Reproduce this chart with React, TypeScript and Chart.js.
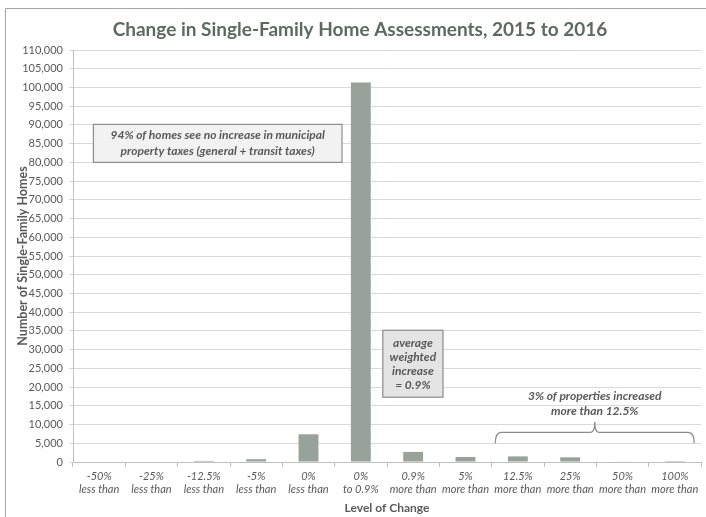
import React, { useEffect, useRef } from "react";
import { Chart, registerables } from "chart.js";

Chart.register(...registerables);

const categoryTop = ["-50%", "-25%", "-12.5%", "-5%", "0%", "0%", "0.9%", "5%", "12.5%", "25%", "50%", "100%"];
const categoryBottom = ["less than", "less than", "less than", "less than", "less than", "to 0.9%", "more than", "more than", "more than", "more than", "more than", "more than"];
const homeCounts = [0, 0, 300, 750, 7400, 101300, 2700, 1350, 1500, 1250, 150, 10];
const titleText = "Change in Single-Family Home Assessments, 2015 to 2016";
const yAxisTitle = "Number of Single-Family Homes";
const xAxisTitle = "Level of Change";
const noteTaxes = ["94% of homes see no increase in municipal", "property taxes (general + transit taxes)"];
const noteAverage = ["average", "weighted", "increase", "= 0.9%"];
const noteBrace = ["3% of properties increased", "more than 12.5%"];

const FONT = "Lato, 'Open Sans', sans-serif";
const TEXT = "#595959";

const decorPlugin = {
  id: "decor",
  beforeDraw(chart: any) {
    const ctx = chart.ctx;
    ctx.save();
    ctx.strokeStyle = "#a6a6a6";
    ctx.lineWidth = 1;
    ctx.beginPath();
    ctx.moveTo(5.5, 530);
    ctx.lineTo(5.5, 8.5);
    ctx.lineTo(720, 8.5);
    ctx.stroke();
    ctx.fillStyle = "#5d6a61";
    ctx.font = `bold 19px ${FONT}`;
    ctx.textAlign = "center";
    ctx.textBaseline = "middle";
    ctx.fillText(titleText, 360, 30);
    ctx.restore();
  },
  afterDatasetsDraw(chart: any) {
    const ctx = chart.ctx;
    const x = chart.scales.x;
    const y = chart.scales.y;
    ctx.save();
    // box 1
    const b1l = x.getPixelForValue(-0.11), b1r = x.getPixelForValue(4.64);
    const b1t = y.getPixelForValue(90150), b1b = y.getPixelForValue(80000);
    ctx.fillStyle = "#f2f2f2";
    ctx.fillRect(b1l, b1t, b1r - b1l, b1b - b1t);
    ctx.strokeStyle = "#8c8c8c";
    ctx.lineWidth = 1.2;
    ctx.strokeRect(b1l, b1t, b1r - b1l, b1b - b1t);
    ctx.fillStyle = TEXT;
    ctx.font = `italic bold 12px ${FONT}`;
    ctx.textAlign = "center";
    ctx.textBaseline = "middle";
    const b1c = (b1l + b1r) / 2, b1m = (b1t + b1b) / 2;
    ctx.fillText(noteTaxes[0], b1c, b1m - 8);
    ctx.fillText(noteTaxes[1], b1c, b1m + 8);
    // box 2
    const b2l = x.getPixelForValue(5.42), b2r = x.getPixelForValue(6.57);
    const b2t = y.getPixelForValue(35170), b2b = y.getPixelForValue(17300);
    ctx.fillStyle = "#e4e4e4";
    ctx.fillRect(b2l, b2t, b2r - b2l, b2b - b2t);
    ctx.strokeRect(b2l, b2t, b2r - b2l, b2b - b2t);
    ctx.fillStyle = TEXT;
    const b2c = (b2l + b2r) / 2, b2m = (b2t + b2b) / 2;
    noteAverage.forEach((s, i) => ctx.fillText(s, b2c, b2m + (i - 1.5) * 14));
    // brace
    const l = x.getPixelForValue(7.57), r = x.getPixelForValue(11.37), m = x.getPixelForValue(9.47);
    const yb = y.getPixelForValue(5000), yh = y.getPixelForValue(7930), yt = y.getPixelForValue(10680);
    ctx.strokeStyle = "#8c8c8c";
    ctx.lineWidth = 1.3;
    ctx.beginPath();
    ctx.moveTo(l, yb);
    ctx.quadraticCurveTo(l, yh, l + 6, yh);
    ctx.lineTo(m - 4, yh);
    ctx.quadraticCurveTo(m, yh, m, yt);
    ctx.quadraticCurveTo(m, yh, m + 4, yh);
    ctx.lineTo(r - 6, yh);
    ctx.quadraticCurveTo(r, yh, r, yb);
    ctx.stroke();
    ctx.fillStyle = TEXT;
    const ty = y.getPixelForValue(15540);
    ctx.fillText(noteBrace[0], m, ty - 7.5);
    ctx.fillText(noteBrace[1], m, ty + 7.5);
    ctx.restore();
  },
};

export default function App() {
  const ref = useRef<HTMLCanvasElement | null>(null);
  useEffect(() => {
    if (!ref.current) return;
    const labels = categoryTop.map((t, i) => [t, categoryBottom[i]]);
    const chart = new Chart(ref.current, {
      type: "bar",
      data: {
        labels,
        datasets: [
          {
            data: homeCounts,
            backgroundColor: "#98a19a",
            borderWidth: 0,
            barPercentage: 0.38,
            categoryPercentage: 1,
          },
        ],
      },
      options: {
        animation: false,
        responsive: false,
        maintainAspectRatio: false,
        layout: { padding: { left: 6, right: 5, top: 50, bottom: 0 } },
        plugins: { legend: { display: false }, title: { display: false }, tooltip: { enabled: false } },
        scales: {
          x: {
            afterFit: (s: any) => { s.height = 55; },
            grid: { drawOnChartArea: false, drawTicks: true, tickLength: 5, color: "#bfbfbf" },
            border: { color: "#bfbfbf" },
            ticks: {
              color: TEXT,
              font: { family: FONT, size: 11, style: "italic", lineHeight: 1.2 },
              padding: 3,
              maxRotation: 0,
              autoSkip: false,
            },
            title: {
              display: true,
              text: xAxisTitle,
              color: TEXT,
              font: { family: FONT, size: 12, weight: "bold" },
              padding: { top: 0, bottom: 2 },
            },
          },
          y: {
            min: 0,
            max: 110000,
            afterFit: (s: any) => { s.width = 67; },
            grid: { color: "#d9d9d9", tickLength: 4 },
            border: { color: "#bfbfbf" },
            ticks: {
              stepSize: 5000,
              color: TEXT,
              font: { family: FONT, size: 11 },
              padding: 6,
              callback: (v: any) => Number(v).toLocaleString("en-US"),
            },
            title: {
              display: true,
              text: yAxisTitle,
              color: TEXT,
              font: { family: FONT, size: 12.5, weight: "bold" },
              padding: { top: 9, bottom: 0 },
            },
          },
        },
      },
      plugins: [decorPlugin],
    });
    return () => chart.destroy();
  }, []);
  return (
    <div style={{ position: "fixed", left: 0, top: 0, width: 706, height: 517, background: "#fff" }}>
      <canvas ref={ref} width={706} height={517} style={{ display: "block" }} />
    </div>
  );
}
